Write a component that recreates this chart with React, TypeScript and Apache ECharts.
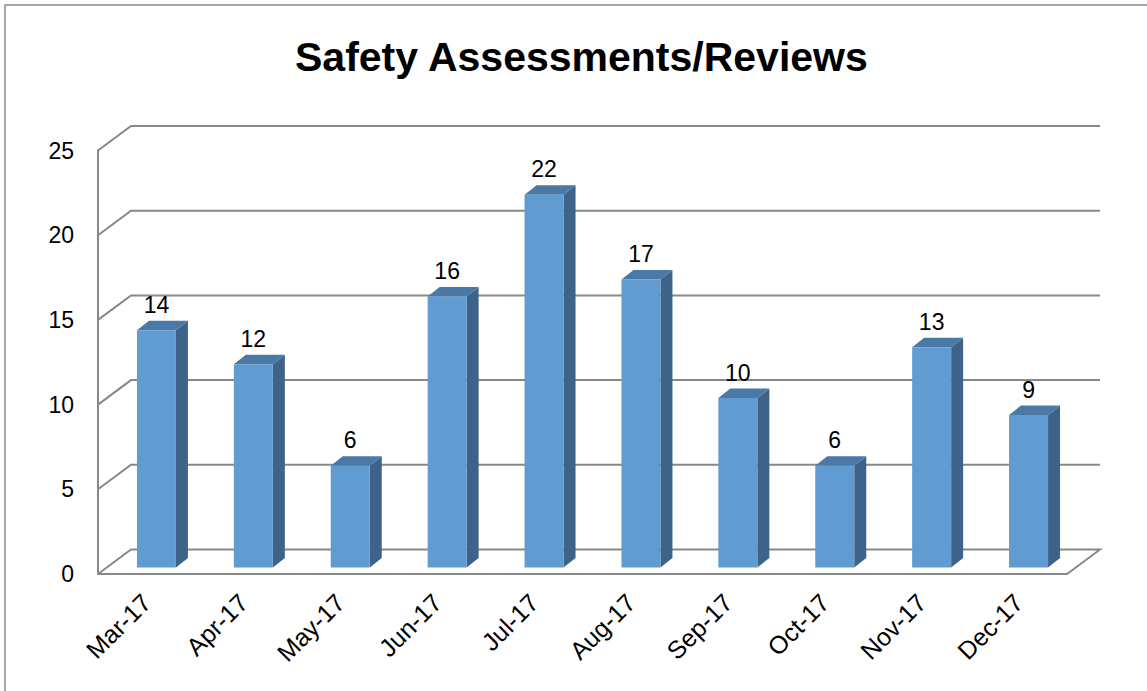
import React, { useEffect, useRef } from "react";
import * as echarts from "echarts";

const categories = ["Mar-17", "Apr-17", "May-17", "Jun-17", "Jul-17", "Aug-17", "Sep-17", "Oct-17", "Nov-17", "Dec-17"];
const values = [14, 12, 6, 16, 22, 17, 10, 6, 13, 9];
const yTicks = [0, 5, 10, 15, 20, 25];
const chartTitle = "Safety Assessments/Reviews";

const FONT = "'Liberation Sans', Arial, sans-serif";
const GRID_COLOR = "#888888";
const WALL_DX = 33;
const WALL_DY = -24.5;
const BAR_SHIFT_X = 10;
const BAR_SHIFT_Y = -6.5;
const BAR_W = 39;
const BAR_DX = 12;
const BAR_DY = -9.5;

export default function App() {
  const ref = useRef<HTMLDivElement>(null);
  useEffect(() => {
    if (!ref.current) return;
    const chart = echarts.init(ref.current, null, { renderer: "svg" });
    const option: any = {
      animation: false,
      backgroundColor: "#ffffff",
      title: {
        text: chartTitle,
        left: 290,
        top: 31,
        textStyle: { fontFamily: FONT, fontSize: 41, fontWeight: "bold", color: "#000" },
      },
      graphic: [
        {
          type: "rect",
          shape: { x: 5, y: 5, width: 1300, height: 900 },
          style: { fill: "none", stroke: "#8a8a8a", lineWidth: 1.5 },
          silent: true,
        },
      ],
      grid: { left: 98, width: 969, top: 150.5, bottom: 117, containLabel: false },
      xAxis: {
        type: "category",
        data: categories,
        boundaryGap: true,
        axisLine: { show: true, lineStyle: { color: GRID_COLOR, width: 2 } },
        axisTick: { show: false },
        splitLine: { show: false },
        axisLabel: { rotate: 45, fontSize: 25, margin: 24, color: "#000", fontFamily: FONT, interval: 0 },
      },
      yAxis: {
        type: "value",
        min: 0,
        max: 25,
        interval: 5,
        axisLine: { show: true, lineStyle: { color: GRID_COLOR, width: 2 } },
        axisTick: { show: false },
        splitLine: { show: false },
        axisLabel: { fontSize: 23, margin: 24, color: "#000", fontFamily: FONT },
      },
      series: [
        {
          type: "custom",
          name: "walls",
          silent: true,
          clip: false,
          z: 1,
          data: yTicks.map((v) => [0, v]),
          renderItem: (params: any, api: any) => {
            const v = api.value(1);
            const cs = params.coordSys;
            const x0 = cs.x;
            const x1 = cs.x + cs.width;
            const y = api.coord([0, v])[1];
            const pts: number[][] = [
              [x0, y],
              [x0 + WALL_DX, y + WALL_DY],
              [x1 + WALL_DX, y + WALL_DY],
            ];
            if (v === 0) pts.push([x1, y]);
            return {
              type: "polyline",
              shape: { points: pts },
              style: { stroke: GRID_COLOR, lineWidth: 2, fill: "none" },
            };
          },
        },
        {
          type: "custom",
          name: "bars",
          silent: true,
          clip: false,
          z: 2,
          data: values.map((v, i) => [i, v]),
          renderItem: (params: any, api: any) => {
            const i = api.value(0);
            const v = api.value(1);
            const top = api.coord([i, v]);
            const base = api.coord([i, 0]);
            const cx = top[0] + BAR_SHIFT_X;
            const yt = top[1] + BAR_SHIFT_Y;
            const yb = base[1] + BAR_SHIFT_Y;
            const xl = cx - BAR_W / 2;
            const xr = cx + BAR_W / 2;
            return {
              type: "group",
              children: [
                {
                  type: "polygon",
                  shape: { points: [[xr, yt], [xr + BAR_DX, yt + BAR_DY], [xr + BAR_DX, yb + BAR_DY], [xr, yb]] },
                  style: { fill: "#3e6389" },
                },
                {
                  type: "polygon",
                  shape: { points: [[xl, yt], [xl + BAR_DX, yt + BAR_DY], [xr + BAR_DX, yt + BAR_DY], [xr, yt]] },
                  style: { fill: "#4a79a6" },
                },
                {
                  type: "rect",
                  shape: { x: xl, y: yt, width: BAR_W, height: yb - yt },
                  style: { fill: "#609cd2" },
                },
                {
                  type: "text",
                  x: cx,
                  y: yt - 25.5,
                  style: {
                    text: String(v),
                    fontSize: 23,
                    fontFamily: FONT,
                    fill: "#000",
                    align: "center",
                    verticalAlign: "middle",
                  },
                },
              ],
            };
          },
        },
      ],
    };
    chart.setOption(option);
    return () => chart.dispose();
  }, []);
  return (
    <div
      ref={ref}
      style={{ position: "fixed", left: 0, top: 0, width: 1147, height: 691, background: "#fff" }}
    />
  );
}
